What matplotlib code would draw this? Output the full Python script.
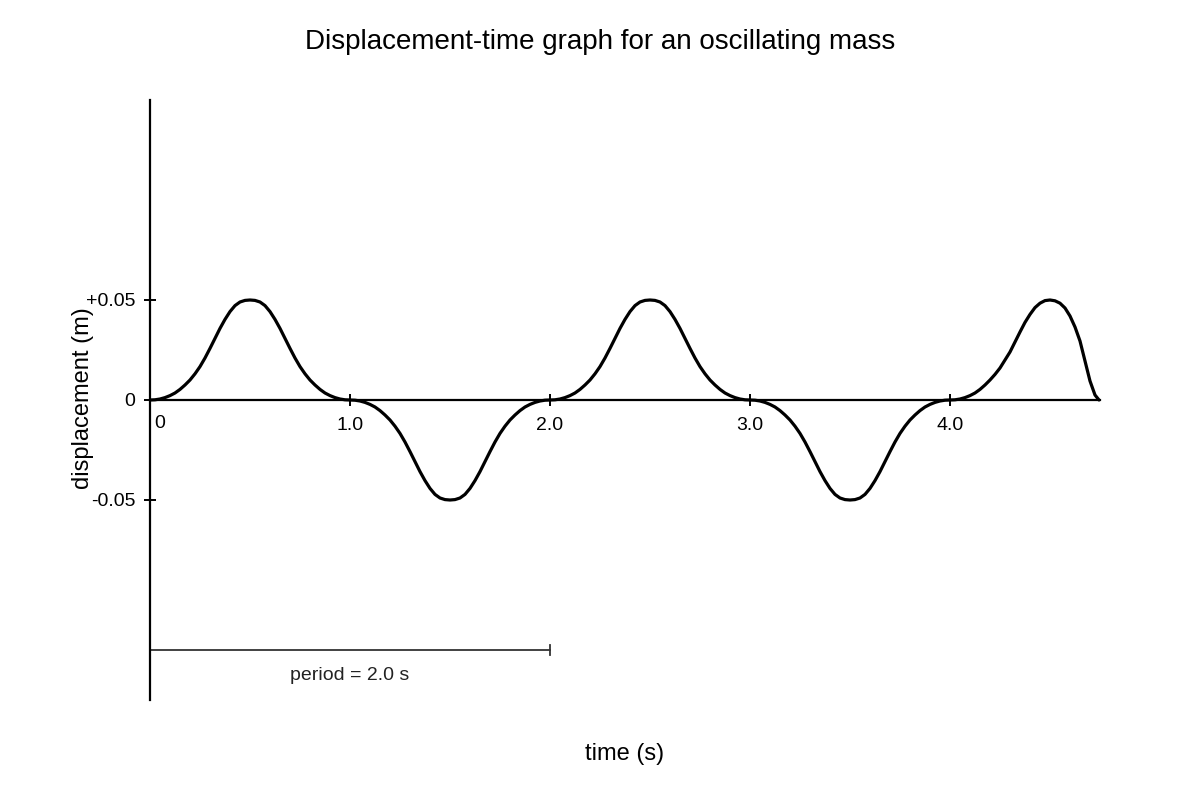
import numpy as np
import matplotlib
import matplotlib.pyplot as plt

matplotlib.rcParams['font.family'] = ['Liberation Sans', 'DejaVu Sans']

# time (s) and displacement (m), every 0.025 s
time = [0.000, 0.025, 0.050, 0.075, 0.100, 0.125, 0.150, 0.175, 0.200, 0.225,
        0.250, 0.275, 0.300, 0.325, 0.350, 0.375, 0.400, 0.425, 0.450, 0.475,
        0.500, 0.525, 0.550, 0.575, 0.600, 0.625, 0.650, 0.675, 0.700, 0.725,
        0.750, 0.775, 0.800, 0.825, 0.850, 0.875, 0.900, 0.925, 0.950, 0.975,
        1.000, 1.025, 1.050, 1.075, 1.100, 1.125, 1.150, 1.175, 1.200, 1.225,
        1.250, 1.275, 1.300, 1.325, 1.350, 1.375, 1.400, 1.425, 1.450, 1.475,
        1.500, 1.525, 1.550, 1.575, 1.600, 1.625, 1.650, 1.675, 1.700, 1.725,
        1.750, 1.775, 1.800, 1.825, 1.850, 1.875, 1.900, 1.925, 1.950, 1.975,
        2.000, 2.025, 2.050, 2.075, 2.100, 2.125, 2.150, 2.175, 2.200, 2.225,
        2.250, 2.275, 2.300, 2.325, 2.350, 2.375, 2.400, 2.425, 2.450, 2.475,
        2.500, 2.525, 2.550, 2.575, 2.600, 2.625, 2.650, 2.675, 2.700, 2.725,
        2.750, 2.775, 2.800, 2.825, 2.850, 2.875, 2.900, 2.925, 2.950, 2.975,
        3.000, 3.025, 3.050, 3.075, 3.100, 3.125, 3.150, 3.175, 3.200, 3.225,
        3.250, 3.275, 3.300, 3.325, 3.350, 3.375, 3.400, 3.425, 3.450, 3.475,
        3.500, 3.525, 3.550, 3.575, 3.600, 3.625, 3.650, 3.675, 3.700, 3.725,
        3.750, 3.775, 3.800, 3.825, 3.850, 3.875, 3.900, 3.925, 3.950, 3.975,
        4.000, 4.025, 4.050, 4.075, 4.100, 4.125, 4.150, 4.175, 4.200, 4.225,
        4.250, 4.275, 4.300, 4.325, 4.350, 4.375, 4.400, 4.425, 4.450, 4.475,
        4.500, 4.525, 4.550, 4.575, 4.600, 4.625, 4.650, 4.675, 4.700, 4.725,
        4.745]
disp = [0.0, 0.0001, 0.0005, 0.0012, 0.0022, 0.0035, 0.0053, 0.0075, 0.0100, 0.0131,
        0.0167, 0.0210, 0.0258, 0.0308, 0.0358, 0.0403, 0.0442, 0.0472, 0.0490, 0.0498,
        0.0500, 0.0498, 0.0490, 0.0472, 0.0442, 0.0403, 0.0358, 0.0308, 0.0258, 0.0210,
        0.0167, 0.0131, 0.0100, 0.0075, 0.0053, 0.0035, 0.0022, 0.0012, 0.0005, 0.0001,
        0.0, -0.0001, -0.0005, -0.0012, -0.0022, -0.0035, -0.0053, -0.0075, -0.0100, -0.0131,
        -0.0167, -0.0210, -0.0258, -0.0308, -0.0358, -0.0403, -0.0442, -0.0472, -0.0490, -0.0498,
        -0.0500, -0.0498, -0.0490, -0.0472, -0.0442, -0.0403, -0.0358, -0.0308, -0.0258, -0.0210,
        -0.0167, -0.0131, -0.0100, -0.0075, -0.0053, -0.0035, -0.0022, -0.0012, -0.0005, -0.0001,
        0.0, 0.0001, 0.0005, 0.0012, 0.0022, 0.0035, 0.0053, 0.0075, 0.0100, 0.0131,
        0.0167, 0.0210, 0.0258, 0.0308, 0.0358, 0.0403, 0.0442, 0.0472, 0.0490, 0.0498,
        0.0500, 0.0498, 0.0490, 0.0472, 0.0442, 0.0403, 0.0358, 0.0308, 0.0258, 0.0210,
        0.0167, 0.0131, 0.0100, 0.0075, 0.0053, 0.0035, 0.0022, 0.0012, 0.0005, 0.0001,
        0.0, -0.0001, -0.0005, -0.0012, -0.0022, -0.0035, -0.0053, -0.0075, -0.0100, -0.0131,
        -0.0167, -0.0210, -0.0258, -0.0308, -0.0358, -0.0403, -0.0442, -0.0472, -0.0490, -0.0498,
        -0.0500, -0.0498, -0.0490, -0.0472, -0.0442, -0.0403, -0.0358, -0.0308, -0.0258, -0.0210,
        -0.0167, -0.0131, -0.0100, -0.0075, -0.0053, -0.0035, -0.0022, -0.0012, -0.0005, -0.0001,
        0.0, 0.0001, 0.0005, 0.0012, 0.0022, 0.0035, 0.0053, 0.0075, 0.0100, 0.0128,
        0.0160, 0.0200, 0.0240, 0.0290, 0.0340, 0.0388, 0.0428, 0.0462, 0.0484, 0.0497,
        0.0500, 0.0496, 0.0484, 0.0460, 0.0420, 0.0365, 0.0295, 0.0195, 0.0095, 0.0025,
        0.0]

xticks = [1.0, 2.0, 3.0, 4.0]
xticklabels = ['1.0', '2.0', '3.0', '4.0']
yticks = [-0.05, 0.0, 0.05]
yticklabels = ['-0.05', '0', '+0.05']

period_start = 0.0
period_end = 2.0
period_y = -0.125
period_text = 'period = 2.0 s'

fig = plt.figure(figsize=(12, 8), dpi=100)
ax = fig.add_axes([150/1200, 100/800, 950/1200, 600/800])

ax.plot(time, disp, color='black', linewidth=2.3,
        solid_capstyle='round', solid_joinstyle='round')

ax.set_xlim(0, 4.75)
ax.set_ylim(-0.15, 0.15)

for s in ['top', 'right']:
    ax.spines[s].set_visible(False)
ax.spines['bottom'].set_position(('data', 0))
ax.spines['left'].set_linewidth(1.6)
ax.spines['bottom'].set_linewidth(1.6)

ax.set_xticks(xticks)
ax.set_xticklabels(xticklabels)
ax.set_yticks(yticks)
ax.set_yticklabels(yticklabels)
ax.tick_params(axis='x', direction='inout', length=8, width=1.4, pad=8.5, labelsize=14)
ax.tick_params(axis='y', direction='inout', length=8, width=1.4, pad=6.5, labelsize=14)
ax.text(0.05, 0, '0', fontsize=14, ha='center', va='top',
        transform=ax.transData + matplotlib.transforms.ScaledTranslation(0, -15/100, fig.dpi_scale_trans))

# period marker
ax.plot([period_start, period_end], [period_y, period_y], color='#333333', linewidth=1.3)
ax.plot([period_end, period_end], [period_y - 0.0025, period_y + 0.0025], color='#333333', linewidth=1.3)
ax.text((period_start + period_end) / 2, period_y - 0.0125, period_text, fontsize=14,
        ha='center', va='center', color='#222222')

fig.text(0.5, 1 - 42/800, 'Displacement-time graph for an oscillating mass', fontsize=20,
         ha='center', va='center')
fig.text(625/1200, 1 - 754/800, 'time (s)', fontsize=17, ha='center', va='center')
fig.text(83/1200, 1 - 398/800, 'displacement (m)', fontsize=17, ha='center', va='center',
         rotation=90)

fig.savefig('out.png', dpi=100)
